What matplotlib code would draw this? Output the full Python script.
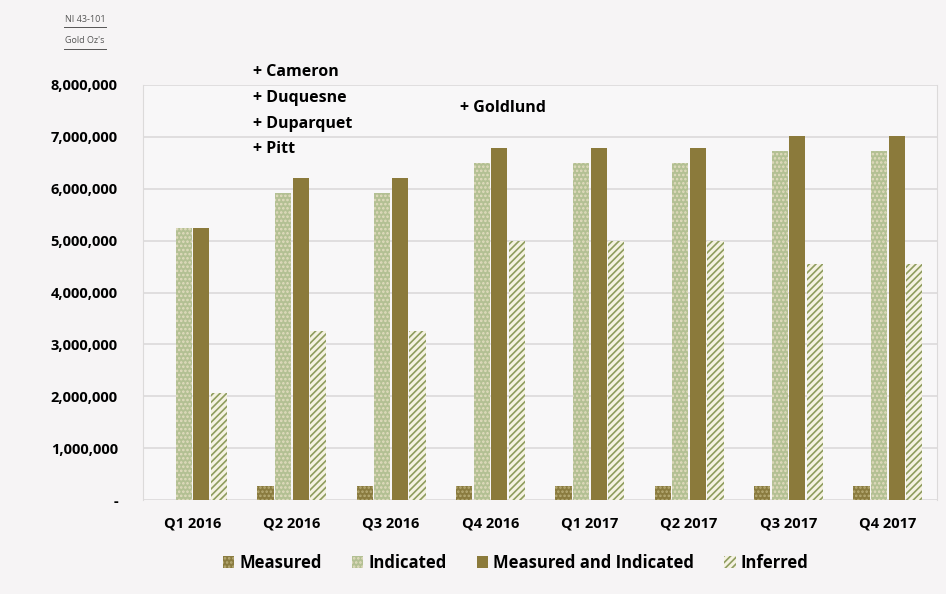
import numpy as np
import matplotlib.pyplot as plt
from matplotlib.ticker import FuncFormatter

plt.rcParams["font.family"] = ["Open Sans", "DejaVu Sans"]
plt.rcParams["hatch.linewidth"] = 1.2

quarters = ["Q1 2016", "Q2 2016", "Q3 2016", "Q4 2016",
            "Q1 2017", "Q2 2017", "Q3 2017", "Q4 2017"]
measured = [0, 280000, 280000, 280000, 280000, 280000, 280000, 280000]
indicated = [5240000, 5920000, 5920000, 6500000, 6500000, 6500000, 6730000, 6730000]
meas_ind = [5240000, 6200000, 6200000, 6780000, 6780000, 6780000, 7020000, 7020000]
inferred = [2060000, 3250000, 3250000, 5000000, 5000000, 5000000, 4550000, 4550000]

series = ["Measured", "Indicated", "Measured and Indicated", "Inferred"]
notes_2016 = ["+ Cameron", "+ Duquesne", "+ Duparquet", "+ Pitt"]

bg = "#f6f4f5"
fig = plt.figure(figsize=(9.46, 5.94), dpi=100, facecolor=bg)
ax = fig.add_axes([0.151, 0.158, 0.840, 0.699], facecolor="#f8f7f8")

x = np.arange(len(quarters))
w = 0.163
step = 0.177
styles = [
    dict(color="#8a7b3f", edgecolor="#b9ad78", hatch="...."),
    dict(color="#b3c093", edgecolor="#e3dcc0", hatch="...."),
    dict(color="#8b7a3b", edgecolor="#8b7a3b", hatch=None),
    dict(color="#f5f2e2", edgecolor="#8e9c5e", hatch="/////"),
]
for i, (name, vals, st) in enumerate(zip(series, [measured, indicated, meas_ind, inferred], styles)):
    ax.bar(x + (i - 1.5) * step, vals, w, label=name, color=st["color"],
           edgecolor=st["edgecolor"], hatch=st["hatch"], linewidth=0, zorder=3)

ax.set_xlim(-0.5, len(quarters) - 0.5)
ax.set_ylim(0, 8000000)
ax.set_yticks(np.arange(0, 8000001, 1000000))
ax.yaxis.set_major_formatter(FuncFormatter(lambda v, p: "-" if v == 0 else f"{int(v):,}"))
ax.set_xticks(x)
ax.set_xticklabels(quarters)
ax.grid(axis="y", color="#dcdada", linewidth=1.2, zorder=0)
ax.tick_params(length=0, labelsize=10.5, pad=12)
for lab in ax.get_xticklabels() + ax.get_yticklabels():
    lab.set_fontweight("bold")
ax.tick_params(axis="y", pad=18)
for s in ["top", "bottom"]:
    ax.spines[s].set_visible(False)
for s in ["left", "right"]:
    ax.spines[s].set_color("#dcdada")

for k, t in enumerate(notes_2016):
    fig.text(0.267, 0.879 - k * 0.0435, t, fontsize=11.5, fontweight="bold", va="center")
fig.text(0.486, 0.818, "+ Goldlund", fontsize=11.5, fontweight="bold", va="center")

fig.text(0.09, 0.968, "NI 43-101", fontsize=6.5, color="#555555", ha="center", va="center")
fig.text(0.09, 0.931, "Gold Oz's", fontsize=6.5, color="#555555", ha="center", va="center")
fig.add_artist(plt.Line2D([0.068, 0.112], [0.955, 0.955], color="#555555", lw=0.7))
fig.add_artist(plt.Line2D([0.068, 0.112], [0.918, 0.918], color="#555555", lw=0.7))

leg = fig.legend(loc="center", bbox_to_anchor=(0.545, 0.052), ncol=4, frameon=False,
                 prop={"weight": "bold", "size": 12}, handlelength=0.7, handleheight=0.7,
                 handletextpad=0.3, columnspacing=1.8)

fig.savefig("out.png", dpi=100, facecolor=bg)
